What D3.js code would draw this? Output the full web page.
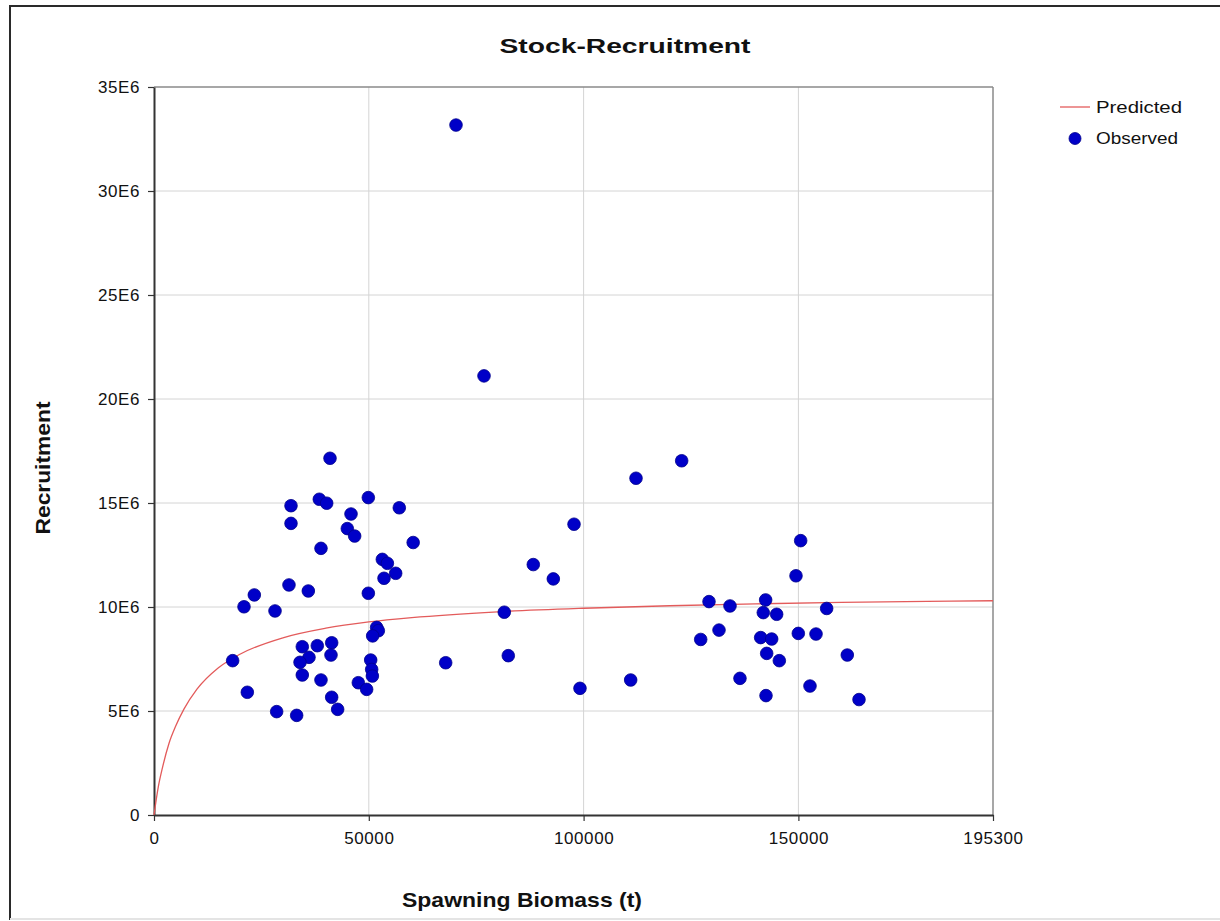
<!DOCTYPE html>
<html>
<head>
<meta charset="utf-8">
<script src="https://cdn.jsdelivr.net/npm/d3@7"></script>
<style>
html,body{margin:0;padding:0;background:#fff;}
svg{display:block;}
</style>
</head>
<body>
<svg id="chart" width="1220" height="921"></svg>
<script>
// ---- data ----
const chartTitle = "Stock-Recruitment";
const xLabel = "Spawning Biomass (t)";
const yLabel = "Recruitment";
const legendLabels = ["Predicted", "Observed"];

const xTicks = [0, 50000, 100000, 150000, 195300];
const yTicks = [0, 5, 10, 15, 20, 25, 30, 35];          // recruitment in millions (E6)
const yTickLabels = ["0", "5E6", "10E6", "15E6", "20E6", "25E6", "30E6", "35E6"];

// Observed: spawning biomass (t) and recruitment (millions)
const observedSSB = [
  40970, 38480, 40200, 49890, 31890, 31890, 45860, 45000, 46710, 57100,
  60330, 38870, 53150, 54320, 56260, 53540, 31420, 35920, 49890, 23350,
  20950, 28170, 51830, 52220, 50900, 34520, 38010, 41360, 41200, 36080,
  33990, 50440, 50670, 18310, 34520, 50830, 38870, 47560, 49500, 21720,
  41360, 42750, 28550, 33210, 70300, 76820, 88290, 92950, 97770, 112200,
  122830, 81540, 67900, 82470, 99160, 110960, 150530, 149440, 129190, 134080,
  142380, 141830, 144940, 156580, 131520, 127260, 141220, 143780, 149980, 154100,
  142620, 145560, 161380, 136400, 152700, 142460, 164110
];
const observedRec = [
  17.15, 15.18, 14.99, 15.26, 14.87, 14.02, 14.47, 13.77, 13.41, 14.77,
  13.10, 12.82, 12.29, 12.10, 11.62, 11.38, 11.06, 10.77, 10.66, 10.58,
  10.01, 9.81, 9.02, 8.86, 8.61, 8.09, 8.14, 8.28, 7.69, 7.58,
  7.34, 7.45, 7.00, 7.42, 6.73, 6.68, 6.49, 6.36, 6.04, 5.90,
  5.66, 5.08, 4.97, 4.79, 33.17, 21.11, 12.04, 11.35, 13.98, 16.19,
  17.03, 9.75, 7.32, 7.66, 6.09, 6.49, 13.19, 11.50, 10.26, 10.05,
  10.34, 9.73, 9.65, 9.93, 8.89, 8.44, 8.53, 8.46, 8.73, 8.70,
  7.77, 7.42, 7.69, 6.57, 6.20, 5.74, 5.55
];

// Predicted curve (SSB in t, recruitment in millions)
const predictedSSB = [0, 1000, 2000, 3500, 5000, 7000, 10000, 15000, 20000, 30000, 40000,
  50000, 60000, 80000, 100000, 120000, 140000, 160000, 180000, 195300];
const predictedRec = [0, 1.35, 2.3, 3.45, 4.25, 5.1, 6.05, 7.08, 7.73, 8.52, 8.98,
  9.28, 9.49, 9.77, 9.94, 10.06, 10.15, 10.22, 10.27, 10.30];

// ---- drawing ----
const svg = d3.select("#chart");
const L = 154, R = 993, T = 87, B = 815;
const x = d3.scaleLinear().domain([0, 195300]).range([L, R]);
const y = d3.scaleLinear().domain([0, 35]).range([B, T]);

// outer frame
svg.append("rect").attr("x", 10).attr("y", 6).attr("width", 1230).attr("height", 913)
  .attr("fill", "none").attr("stroke", "#2a2a2a").attr("stroke-width", 2);
svg.append("line").attr("x1", 10).attr("x2", 1220).attr("y1", 919).attr("y2", 919)
  .attr("stroke", "#e4e4e4").attr("stroke-width", 2);

// gridlines
svg.append("g").selectAll("line").data(yTicks.filter(d => d > 0 && d < 35)).join("line")
  .attr("x1", L).attr("x2", R).attr("y1", d => y(d)).attr("y2", d => y(d))
  .attr("stroke", "#d4d4d4").attr("stroke-width", 1);
svg.append("g").selectAll("line").data(xTicks.filter(d => d > 0 && d < 195300)).join("line")
  .attr("y1", T).attr("y2", B).attr("x1", d => x(d)).attr("x2", d => x(d))
  .attr("stroke", "#d4d4d4").attr("stroke-width", 1);

// plot frame top/right
svg.append("line").attr("x1", L).attr("x2", R).attr("y1", T).attr("y2", T)
  .attr("stroke", "#8a8a8a").attr("stroke-width", 1.5);
svg.append("line").attr("x1", R).attr("x2", R).attr("y1", T).attr("y2", B)
  .attr("stroke", "#8a8a8a").attr("stroke-width", 1.5);

// axes
const yAxis = d3.axisLeft(y).tickValues(yTicks).tickSize(6).tickSizeOuter(0)
  .tickFormat((d, i) => yTickLabels[i]).tickPadding(8);
const gy = svg.append("g").attr("transform", `translate(${L},0)`).call(yAxis);
gy.select(".domain").attr("stroke", "#333").attr("stroke-width", 2);
gy.selectAll(".tick line").attr("stroke", "#333").attr("stroke-width", 1.2);
gy.selectAll(".tick text").attr("font-family", "Liberation Sans, Arial, sans-serif")
  .attr("font-size", 17).attr("fill", "#111").attr("letter-spacing", "0.6px");

const xAxis = d3.axisBottom(x).tickValues(xTicks).tickSize(6).tickSizeOuter(0)
  .tickFormat(d3.format("d")).tickPadding(11);
const gx = svg.append("g").attr("transform", `translate(0,${B})`).call(xAxis);
gx.select(".domain").attr("stroke", "#333").attr("stroke-width", 2);
gx.selectAll(".tick line").attr("stroke", "#333").attr("stroke-width", 1.2);
gx.selectAll(".tick text").attr("font-family", "Liberation Sans, Arial, sans-serif")
  .attr("font-size", 17).attr("fill", "#111").attr("letter-spacing", "0.6px");

// predicted line
const predicted = predictedSSB.map((s, i) => [s, predictedRec[i]]);
svg.append("path").datum(predicted)
  .attr("d", d3.line().x(d => x(d[0])).y(d => y(d[1])).curve(d3.curveMonotoneX))
  .attr("fill", "none").attr("stroke", "#e35b5b").attr("stroke-width", 1.3);

// observed points
const observed = observedSSB.map((s, i) => [s, observedRec[i]]);
svg.append("g").selectAll("circle").data(observed).join("circle")
  .attr("cx", d => x(d[0])).attr("cy", d => y(d[1])).attr("r", 6.3)
  .attr("fill", "#0000c8").attr("stroke", "#00008c").attr("stroke-width", 0.8);

// title
svg.append("text").attr("x", 625).attr("y", 53).attr("text-anchor", "middle")
  .attr("font-family", "Liberation Sans, Arial, sans-serif").attr("font-weight", "bold")
  .attr("font-size", 21).attr("textLength", 251).attr("lengthAdjust", "spacingAndGlyphs")
  .attr("fill", "#111").text(chartTitle);

// axis titles
svg.append("text").attr("x", 522).attr("y", 907).attr("text-anchor", "middle")
  .attr("font-family", "Liberation Sans Narrow, Liberation Sans, Arial, sans-serif").attr("font-weight", "bold")
  .attr("font-size", 21).attr("textLength", 240).attr("lengthAdjust", "spacingAndGlyphs")
  .attr("fill", "#111").text(xLabel);
svg.append("text").attr("transform", "translate(50,468) rotate(-90)").attr("text-anchor", "middle")
  .attr("font-family", "Liberation Sans Narrow, Liberation Sans, Arial, sans-serif").attr("font-weight", "bold")
  .attr("font-size", 21).attr("textLength", 133).attr("lengthAdjust", "spacingAndGlyphs")
  .attr("fill", "#111").text(yLabel);

// legend
const lg = svg.append("g");
lg.append("line").attr("x1", 1060).attr("x2", 1090).attr("y1", 107).attr("y2", 107)
  .attr("stroke", "#e35b5b").attr("stroke-width", 1.3);
lg.append("circle").attr("cx", 1075).attr("cy", 138.5).attr("r", 6)
  .attr("fill", "#0000c8").attr("stroke", "#00008c").attr("stroke-width", 0.8);
lg.selectAll("text").data(legendLabels).join("text")
  .attr("x", 1096).attr("y", (d, i) => 113 + i * 31)
  .attr("font-family", "Liberation Sans, Arial, sans-serif").attr("font-size", 16)
  .attr("textLength", (d, i) => i === 0 ? 86 : 82).attr("lengthAdjust", "spacingAndGlyphs")
  .attr("fill", "#111").text(d => d);
</script>
</body>
</html>
